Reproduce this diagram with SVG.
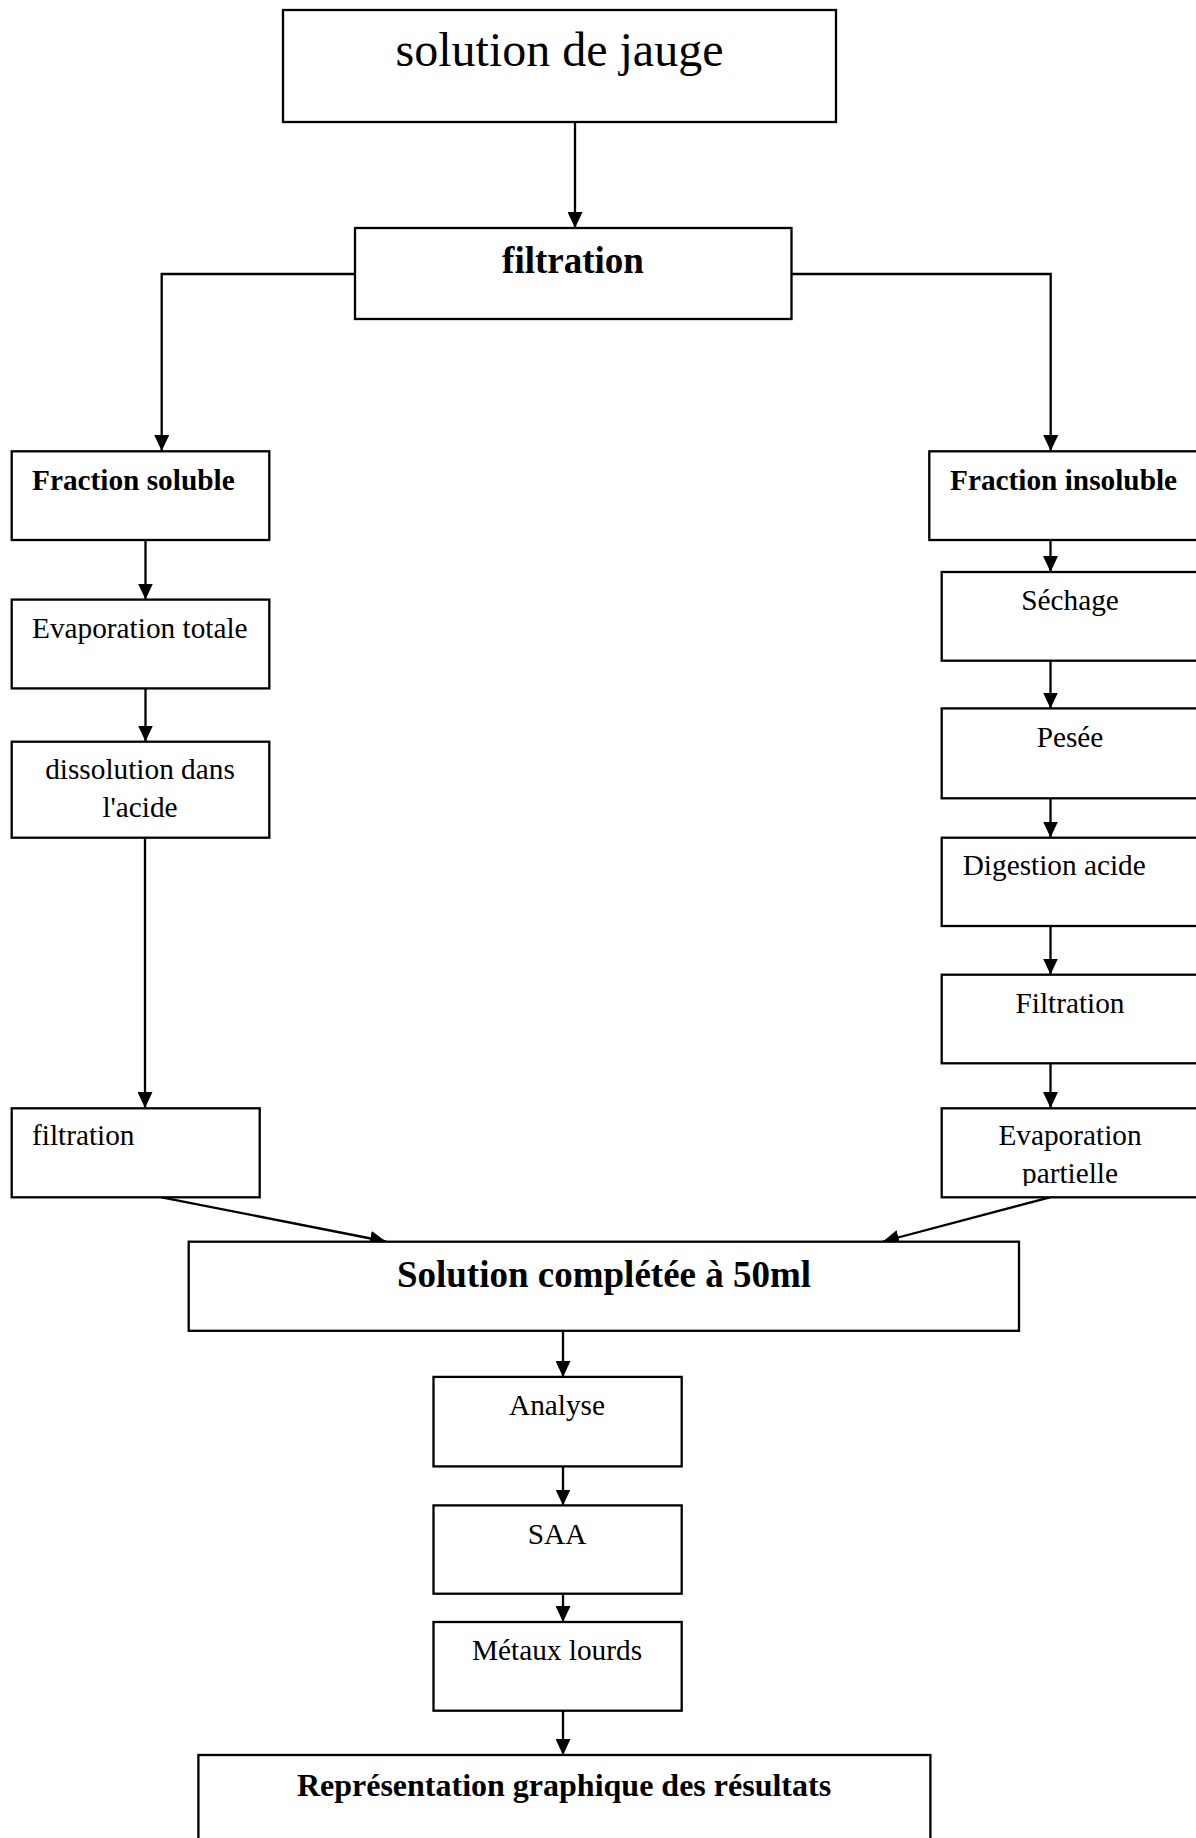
<svg xmlns="http://www.w3.org/2000/svg" width="1196" height="1838" viewBox="0 0 1196 1838">
<style>
.box{fill:#fff;stroke:#000;stroke-width:2.3}
.t{font-family:"Liberation Serif","Times New Roman",serif;font-size:29.3px;fill:#000}
.b{font-weight:bold}
.c{text-anchor:middle}
.ln{fill:none;stroke:#000;stroke-width:2.3}
</style>
<defs>
<marker id="ah" markerUnits="userSpaceOnUse" markerWidth="16" markerHeight="15" refX="16" refY="7.5" orient="auto">
<path d="M0,0 L16,7.5 L0,15 z" fill="#000"/>
</marker>
<clipPath id="clipEP"><rect x="940" y="1108" width="260" height="78"/></clipPath>
</defs>
<rect width="1196" height="1838" fill="#fff"/>
<g id="connectors">
<line class="ln" x1="575" y1="122" x2="575" y2="228" marker-end="url(#ah)"/>
<polyline class="ln" points="355,274 161.7,274 161.7,451" marker-end="url(#ah)"/>
<polyline class="ln" points="791.5,274 1050.7,274 1050.7,451" marker-end="url(#ah)"/>
<line class="ln" x1="145.5" y1="540" x2="145.5" y2="599.5" marker-end="url(#ah)"/>
<line class="ln" x1="145.5" y1="688.5" x2="145.5" y2="741.5" marker-end="url(#ah)"/>
<line class="ln" x1="145" y1="837.5" x2="145" y2="1108" marker-end="url(#ah)"/>
<line class="ln" x1="1050.5" y1="540" x2="1050.5" y2="572" marker-end="url(#ah)"/>
<line class="ln" x1="1050.5" y1="660.5" x2="1050.5" y2="708.5" marker-end="url(#ah)"/>
<line class="ln" x1="1050.5" y1="798" x2="1050.5" y2="837.5" marker-end="url(#ah)"/>
<line class="ln" x1="1050.5" y1="926" x2="1050.5" y2="974.5" marker-end="url(#ah)"/>
<line class="ln" x1="1050.5" y1="1063.5" x2="1050.5" y2="1108" marker-end="url(#ah)"/>
<line class="ln" x1="161.7" y1="1197.3" x2="386" y2="1241.5" marker-end="url(#ah)"/>
<line class="ln" x1="1050" y1="1197.3" x2="883" y2="1241.5" marker-end="url(#ah)"/>
<line class="ln" x1="563" y1="1331" x2="563" y2="1377" marker-end="url(#ah)"/>
<line class="ln" x1="563" y1="1466.5" x2="563" y2="1505.5" marker-end="url(#ah)"/>
<line class="ln" x1="563" y1="1594" x2="563" y2="1622" marker-end="url(#ah)"/>
<line class="ln" x1="563" y1="1711" x2="563" y2="1755" marker-end="url(#ah)"/>
</g>
<g id="n-jauge">
<rect class="box" x="283" y="10" width="553" height="112"/>
<text class="t c" x="559.5" y="66" style="font-size:48px">solution de jauge</text>
</g>
<g id="n-filtration">
<rect class="box" x="355" y="228" width="436.5" height="91"/>
<text class="t b c" x="573" y="273" style="font-size:37px">filtration</text>
</g>
<g id="n-soluble">
<rect class="box" x="11.7" y="451.3" width="257.6" height="88.7"/>
<text class="t b" x="32" y="490">Fraction soluble</text>
</g>
<g id="n-evap-totale">
<rect class="box" x="11.7" y="599.6" width="257.6" height="88.8"/>
<text class="t" x="32" y="638">Evaporation totale</text>
</g>
<g id="n-dissolution">
<rect class="box" x="11.7" y="741.7" width="257.6" height="96"/>
<text class="t c" x="140" y="778.7">dissolution dans</text>
<text class="t c" x="140" y="816.8">l'acide</text>
</g>
<g id="n-filtration-left">
<rect class="box" x="11.7" y="1108.3" width="248" height="89"/>
<text class="t" x="32" y="1145">filtration</text>
</g>
<g id="n-insoluble">
<rect class="box" x="929.3" y="451.3" width="280" height="88.7"/>
<text class="t b" x="950" y="490">Fraction insoluble</text>
</g>
<g id="n-sechage">
<rect class="box" x="941.7" y="572" width="270" height="88.7"/>
<text class="t c" x="1070" y="609.6">Séchage</text>
</g>
<g id="n-pesee">
<rect class="box" x="941.7" y="708.4" width="270" height="89.9"/>
<text class="t c" x="1070" y="746.5">Pesée</text>
</g>
<g id="n-digestion">
<rect class="box" x="941.7" y="837.7" width="270" height="88.3"/>
<text class="t" x="962.7" y="875">Digestion acide</text>
</g>
<g id="n-filtration-right">
<rect class="box" x="941.7" y="974.7" width="270" height="88.6"/>
<text class="t c" x="1070" y="1012.7">Filtration</text>
</g>
<g id="n-evap-partielle">
<rect class="box" x="941.7" y="1108.3" width="270" height="89"/>
<g clip-path="url(#clipEP)">
<text class="t c" x="1070" y="1145">Evaporation</text>
<text class="t c" x="1070" y="1182.7">partielle</text>
</g>
</g>
<g id="n-solution">
<rect class="box" x="188.7" y="1241.7" width="830.3" height="89.1"/>
<text class="t b c" x="604" y="1287" style="font-size:37px">Solution complétée à 50ml</text>
</g>
<g id="n-analyse">
<rect class="box" x="433.5" y="1376.9" width="248.2" height="89.5"/>
<text class="t c" x="557" y="1415">Analyse</text>
</g>
<g id="n-saa">
<rect class="box" x="433.5" y="1505.4" width="248.2" height="88.3"/>
<text class="t c" x="557" y="1544">SAA</text>
</g>
<g id="n-metaux">
<rect class="box" x="433.5" y="1622" width="248.2" height="88.7"/>
<text class="t c" x="557" y="1659.5">Métaux lourds</text>
</g>
<g id="n-representation">
<rect class="box" x="198.4" y="1755" width="732" height="90"/>
<text class="t b c" x="564" y="1795.5" style="font-size:32px">Représentation graphique des résultats</text>
</g>
</svg>
